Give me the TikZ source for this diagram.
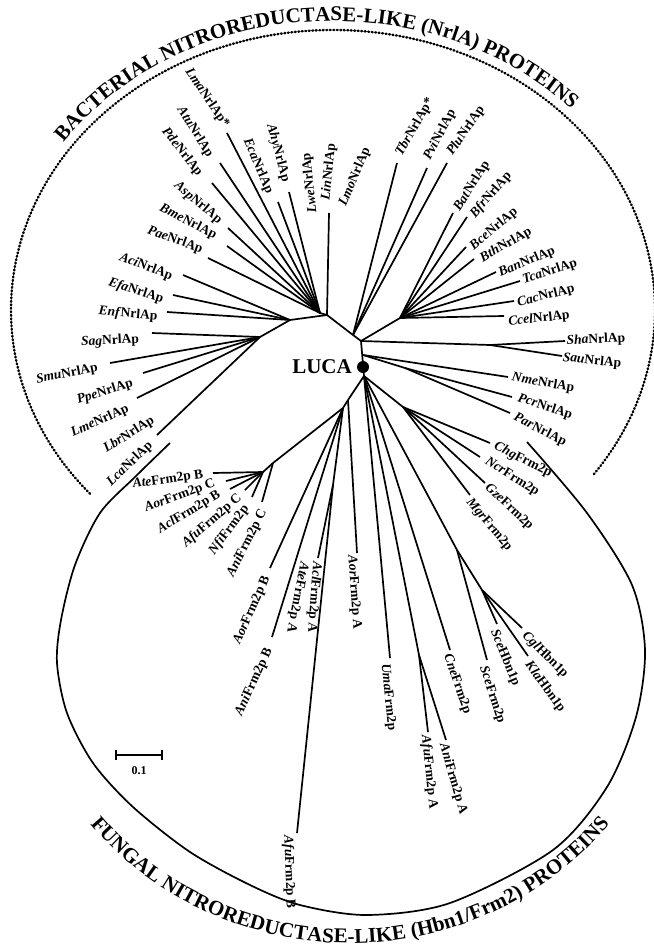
\documentclass[tikz,border=0pt]{standalone}
\usepackage{fontspec}
\setmainfont{Liberation Serif}
\usetikzlibrary{decorations.text,arrows.meta}
\newcommand\titfont{\fontsize{21}{21}\selectfont\bfseries}
\newcommand\mylab[6]{\node[lab,rotate=#4] (t#1) at (#2,-#3) {\textit{#5}#6};}
\begin{document}
\begin{tikzpicture}[x=1pt,y=1pt,
  br/.style={line width=1.7pt},
  lab/.style={font=\fontsize{13.5}{13.5}\selectfont\bfseries, inner sep=0pt},
  dotline/.style={line width=2.4pt, line cap=round, dash pattern=on 0.9pt off 2.6pt},
  arcline/.style={line width=1.7pt}]
\useasboundingbox (0,0) rectangle (653,-950);

% ---------- internal nodes ----------
\coordinate (A)  at (361,-341);
\coordinate (P)  at (353,-335);
\coordinate (B)  at (327,-315);
\coordinate (B1) at (320,-313);
\coordinate (B2) at (290,-320);
\coordinate (B3) at (260,-337);
\coordinate (Q)  at (400,-318);
\coordinate (S)  at (490,-345);
\coordinate (Np) at (363,-355);
\coordinate (R)  at (405,-368);
\coordinate (N0) at (364,-376);
\coordinate (Fa) at (348,-400);
\coordinate (Fb) at (343,-408);
\coordinate (Fc) at (333,-485);
\coordinate (Cn) at (273,-463);
\coordinate (C1) at (263,-472);
\coordinate (AA) at (419,-655);
\coordinate (H1) at (457,-550);
\coordinate (H2) at (482,-590);
\coordinate (F1) at (403,-407);

% ---------- leaf tips ----------
\coordinate (Lma) at (227,-133);
\coordinate (Atu) at (220,-163);
\coordinate (Pde) at (212,-183);
\coordinate (Asp) at (228,-228);
\coordinate (Bme) at (227,-246);
\coordinate (Pae) at (208,-258);
\coordinate (Ahy) at (289,-192);
\coordinate (Eca) at (278,-202);
\coordinate (Lin) at (329,-213);
\coordinate (Aci) at (183,-275);
\coordinate (Efa) at (173,-295);
\coordinate (Enf) at (167,-312);
\coordinate (Sag) at (152,-333);
\coordinate (Smu) at (110,-363);
\coordinate (Ppe) at (143,-373);
\coordinate (Lme) at (137,-398);
\coordinate (Lbr) at (157,-435);
\coordinate (Tbr) at (397,-163);
\coordinate (Pvi) at (427,-168);
\coordinate (Plu) at (447,-163);
\coordinate (Bat) at (453,-213);
\coordinate (Bfr) at (467,-217);
\coordinate (Bce) at (466,-247);
\coordinate (Bth) at (474,-259);
\coordinate (Ban) at (496,-272);
\coordinate (Tca) at (520,-281);
\coordinate (Cac) at (514,-301);
\coordinate (Ccel) at (504,-316);
\coordinate (Sha) at (565,-341);
\coordinate (Sau) at (562,-356);
\coordinate (Nme) at (508,-377);
\coordinate (Pcr) at (512,-397);
\coordinate (Par) at (510,-413);
\coordinate (AteB) at (213,-473);
\coordinate (AorC) at (226,-481);
\coordinate (AclB) at (230,-489);
\coordinate (AfuC) at (245,-490);
\coordinate (Nfi) at (252,-497);
\coordinate (AniC) at (262,-502);
\coordinate (AorA) at (357,-553);
\coordinate (AorB) at (270,-568);
\coordinate (AniB) at (272,-637);
\coordinate (AclA) at (318,-558);
\coordinate (AfuB) at (297,-833);
\coordinate (Uma) at (390,-658);
\coordinate (AfuA) at (428,-732);
\coordinate (AniA) at (446,-740);
\coordinate (Cne) at (450,-650);
\coordinate (SceF) at (487,-660);
\coordinate (Cgl) at (522,-628);
\coordinate (Kla) at (528,-656);
\coordinate (SceH) at (497,-624);
\coordinate (Chg) at (490,-443);
\coordinate (Ncr) at (480,-457);
\coordinate (Gze) at (485,-483);
\coordinate (Mgr) at (470,-495);

% ---------- branches ----------
\draw[br] (A) -- (P) -- (B) -- (B1);
\draw[br] (A) -- (N0);
\foreach \p/\c in {B1/Lma,B1/Atu,B1/Pde,B1/Asp,B1/Bme,B1/Pae,B1/Ahy,B1/Eca,B/Lin,
  B/B2,B2/Aci,B2/Efa,B2/Enf,B2/B3,B3/Sag,B3/Smu,B3/Ppe,B3/Lme,B3/Lbr,
  P/Tbr,P/Pvi,P/Plu,A/Q,Q/Bat,Q/Bfr,Q/Bce,Q/Bth,Q/Ban,Q/Tca,Q/Cac,Q/Ccel,
  A/S,S/Sha,S/Sau,Np/Nme,Np/R,R/Pcr,R/Par,
  N0/Fa,Fa/AorA,Fa/Fb,Fb/Cn,Cn/C1,C1/AteB,C1/AorC,C1/AclB,C1/AfuC,C1/Nfi,Cn/AniC,
  Fb/AorB,Fb/AniB,Fb/Fc,Fc/AclA,Fc/AfuB,
  N0/Uma,N0/AA,AA/AfuA,AA/AniA,N0/Cne,N0/H1,H1/SceF,H1/H2,H2/Cgl,H2/Kla,H2/SceH,
  N0/F1,F1/Chg,F1/Ncr,F1/Gze,F1/Mgr}
  \draw[br] (\p) -- (\c);

% ---------- LUCA ----------
\node[circle, fill, inner sep=0pt, minimum size=12pt] (luca) at (363,-367) {};
\node[font=\fontsize{21}{21}\selectfont\bfseries, inner sep=0pt] (lucatext) at (322,-367) {LUCA};

% ---------- group outlines ----------
\draw[dotline, shift={(333,-310)}] (221:322pt and 280pt)
  arc[start angle=221, end angle=-36, x radius=322pt, y radius=280pt];
\draw[arcline] plot[smooth, tension=0.5] coordinates {(170,-443) (135,-477) (100,-513) (75,-565)
  (61,-620) (57,-663) (67,-713) (93,-763) (133,-807) (190,-852) (250,-885) (300,-905) (367,-915)
  (450,-903) (553,-850) (607,-787) (636,-717) (645,-650) (632,-585) (587,-513) (527,-442)};

% ---------- titles ----------
\path[shift={(333,-310)}, decorate, decoration={text along path, text align=center,
  text={|\titfont|BACTERIAL NITROREDUCTASE-LIKE (NrlA) PROTEINS}}]
  (184.5:331pt and 289pt) arc[start angle=184.5, end angle=4.5, x radius=331pt, y radius=289pt];
\path[shift={(350,-620)}, decorate, decoration={text along path, text align=center,
  text={|\titfont|FUNGAL NITROREDUCTASE-LIKE (Hbn1/Frm2) PROTEINS}}]
  (195:335pt and 323pt) arc[start angle=195, end angle=345, x radius=335pt, y radius=323pt];

% ---------- scale bar ----------
\coordinate (sb1) at (115,-755);
\coordinate (sb2) at (163,-755);
\draw[line width=1.6pt, {Bar[width=10pt]}-{Bar[width=10pt]}] (sb1) -- (sb2);
\node[font=\fontsize{12}{12}\selectfont\bfseries, inner sep=0pt] (sbl) at (139,-771) {0.1};

% ---------- labels ----------
\mylab{Lma}{207}{98}{-56}{Lma}{NrlAp*}
\mylab{Atu}{195}{132}{-58}{Atu}{NrlAp}
\mylab{Pde}{182}{152}{-52}{Pde}{NrlAp}
\mylab{Asp}{198}{203}{-40}{Asp}{NrlAp}
\mylab{Bme}{188}{222}{-27}{Bme}{NrlAp}
\mylab{Pae}{175}{240}{-20}{Pae}{NrlAp}
\mylab{Aci}{146}{267}{-21}{Aci}{NrlAp}
\mylab{Efa}{136}{291}{-18}{Efa}{NrlAp}
\mylab{Enf}{128}{314}{-5}{Enf}{NrlAp}
\mylab{Sag}{110}{341}{3}{Sag}{NrlAp}
\mylab{Smu}{67}{374}{11}{Smu}{NrlAp}
\mylab{Ppe}{105}{392}{17}{Ppe}{NrlAp}
\mylab{Lme}{100}{421}{24}{Lme}{NrlAp}
\mylab{Lbr}{129}{435}{32}{Lbr}{NrlAp}
\mylab{Lca}{130}{464}{44}{Lca}{NrlAp}
\mylab{Ahy}{278}{153}{-75}{Ahy}{NrlAp}
\mylab{Eca}{258}{166}{-67}{Eca}{NrlAp}
\mylab{Lwe}{310}{183}{96}{Lwe}{NrlAp}
\mylab{Lin}{329}{172}{84}{Lin}{NrlAp}
\mylab{Lmo}{355}{177}{67}{Lmo}{NrlAp}
\mylab{Tbr}{415}{127}{60}{Tbr}{NrlAp*}
\mylab{Pvi}{440}{135}{62}{Pvi}{NrlAp}
\mylab{Plu}{466}{131}{55}{Plu}{NrlAp}
\mylab{Bat}{472}{186}{58}{Bat}{NrlAp}
\mylab{Bfr}{491}{195}{49}{Bfr}{NrlAp}
\mylab{Bce}{494}{229}{40}{Bce}{NrlAp}
\mylab{Bth}{506}{245}{30}{Bth}{NrlAp}
\mylab{Ban}{527}{262}{23}{Ban}{NrlAp}
\mylab{Tca}{550}{272}{18}{Tca}{NrlAp}
\mylab{Cac}{546}{296}{14}{Cac}{NrlAp}
\mylab{Ccel}{539}{319}{6}{Ccel}{NrlAp}
\mylab{Sha}{596}{340}{3}{Sha}{NrlAp}
\mylab{Sau}{592}{361}{-6}{Sau}{NrlAp}
\mylab{Nme}{543}{383}{-10}{Nme}{NrlAp}
\mylab{Pcr}{545}{407}{-18}{Pcr}{NrlAp}
\mylab{Par}{540}{430}{-27}{Par}{NrlAp}
\mylab{Chg}{523}{460}{-27}{Chg}{Frm2p}
\mylab{Ncr}{512}{477}{-32}{Ncr}{Frm2p}
\mylab{Gze}{509}{507}{-43}{Gze}{Frm2p}
\mylab{Mgr}{489}{525}{-50}{Mgr}{Frm2p}
\mylab{Cgl}{545}{655}{-45}{Cgl}{Hbn1p}
\mylab{Kla}{545}{687}{-54}{Kla}{Hbn1p}
\mylab{SceH}{505}{658}{-68}{Sce}{Hbn1p}
\mylab{SceF}{492}{695}{-72}{Sce}{Frm2p}
\mylab{Cne}{457}{684}{-71}{Cne}{Frm2p}
\mylab{AniA}{453}{779}{-74}{Ani}{Frm2p A}
\mylab{AfuA}{429}{772}{-84}{Afu}{Frm2p A}
\mylab{Uma}{388}{697}{-84}{Uma}{Frm2p}
\mylab{AfuB}{289}{872}{-88}{Afu}{Frm2p B}
\mylab{AorA}{354}{592}{-86}{Aor}{Frm2p A}
\mylab{AclA}{314}{597}{-94}{Acl}{Frm2p A}
\mylab{AteA}{297}{597}{-101}{Ate}{Frm2p A}
\mylab{AorB}{252}{610}{66}{Aor}{Frm2p B}
\mylab{AniB}{254}{682}{65}{Ani}{Frm2p B}
\mylab{AniC}{247}{543}{63}{Ani}{Frm2p C}
\mylab{Nfi}{229}{530}{53}{Nfi}{Frm2p}
\mylab{AfuC}{212}{521}{41}{Afu}{Frm2p C}
\mylab{AclB}{189}{512}{31}{Acl}{Frm2p B}
\mylab{AorC}{180}{496}{20.5}{Aor}{Frm2p C}
\mylab{AteB}{168}{480}{8}{Ate}{Frm2p B}
\end{tikzpicture}
\end{document}
